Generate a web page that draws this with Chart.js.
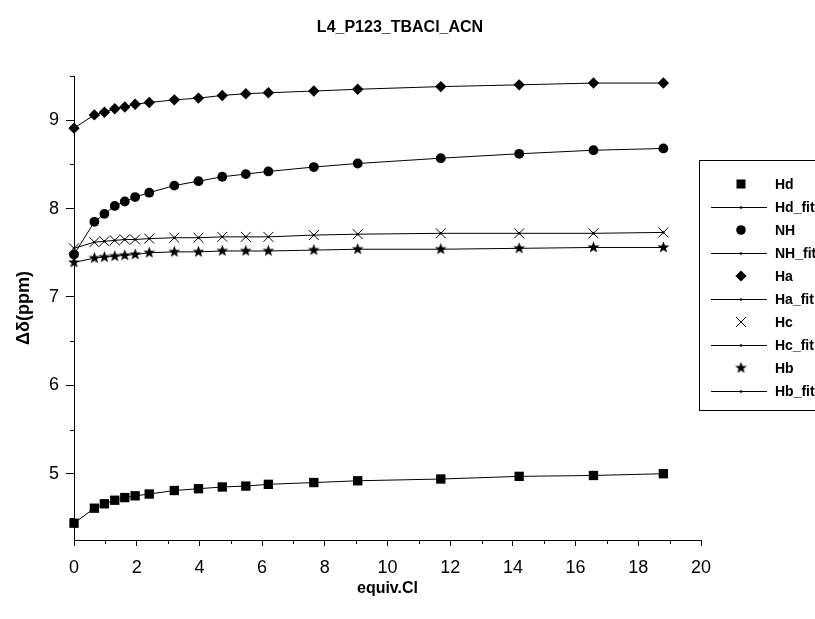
<!DOCTYPE html>
<html>
<head>
<meta charset="utf-8">
<script src="https://cdn.jsdelivr.net/npm/chart.js@4/dist/chart.umd.min.js"></script>
<style>
  html, body { margin: 0; padding: 0; background: #fff; }
  #wrap { width: 815px; height: 619px; position: relative; }
</style>
</head>
<body>
<div id="wrap"><canvas id="c" width="815" height="619"></canvas></div>
<script>
// Titration of L4 with TBACl in ACN: chemical shift vs equivalents of Cl-
const equiv = [0, 0.65, 0.97, 1.30, 1.62, 1.95, 2.40, 3.20, 3.97, 4.73, 5.48, 6.20, 7.65, 9.05, 11.70, 14.20, 16.57, 18.80];

const Hd = [4.44, 4.61, 4.66, 4.70, 4.73, 4.75, 4.77, 4.81, 4.83, 4.85, 4.86, 4.88, 4.90, 4.92, 4.94, 4.97, 4.98, 5.00];
const NH = [7.48, 7.85, 7.94, 8.03, 8.08, 8.13, 8.18, 8.26, 8.31, 8.36, 8.39, 8.42, 8.47, 8.51, 8.57, 8.62, 8.66, 8.68];
const Ha = [8.91, 9.06, 9.09, 9.13, 9.15, 9.18, 9.20, 9.23, 9.25, 9.28, 9.30, 9.31, 9.33, 9.35, 9.38, 9.40, 9.42, 9.42];
const Hc = [7.55, 7.62, 7.63, 7.64, 7.65, 7.65, 7.66, 7.67, 7.67, 7.68, 7.68, 7.68, 7.70, 7.71, 7.72, 7.72, 7.72, 7.73];
const Hb = [7.39, 7.44, 7.45, 7.46, 7.47, 7.48, 7.50, 7.51, 7.51, 7.52, 7.52, 7.52, 7.53, 7.54, 7.54, 7.55, 7.56, 7.56];

// fitted curves (evaluated at the titration points)
const HdFit = Hd, NHFit = NH, HaFit = Ha, HcFit = Hc, HbFit = Hb;

const xMajorTicks = [0, 2, 4, 6, 8, 10, 12, 14, 16, 18, 20];
const yMajorTicks = [5, 6, 7, 8, 9];

const chartTitle = 'L4_P123_TBACl_ACN';
const FONT = "'Liberation Sans', Arial, sans-serif";

// filled five-point star used as a marker
function makeStar(r) {
  const cv = document.createElement('canvas');
  const s = Math.ceil(r * 2 + 2);
  cv.width = s; cv.height = s;
  const g = cv.getContext('2d');
  g.fillStyle = '#000';
  g.beginPath();
  for (let i = 0; i < 10; i++) {
    const rr = i % 2 === 0 ? r : r * 0.42;
    const a = -Math.PI / 2 + i * Math.PI / 5;
    const px = s / 2 + rr * Math.cos(a), py = s / 2 + rr * Math.sin(a);
    if (i === 0) g.moveTo(px, py); else g.lineTo(px, py);
  }
  g.closePath();
  g.fill();
  return cv;
}
const starImg = makeStar(6.2);

const pts = arr => equiv.map((x, i) => ({ x: x, y: arr[i] }));

function markerSet(label, arr, style, radius, filled) {
  return {
    label: label, data: pts(arr), showLine: false, order: 0, clip: false,
    pointStyle: style, pointRadius: radius,
    pointBackgroundColor: filled ? '#000' : 'rgba(0,0,0,0)',
    pointBorderColor: '#000', pointBorderWidth: filled ? 0 : 1
  };
}
function fitSet(label, arr) {
  return {
    label: label, data: pts(arr), showLine: true, order: 1, clip: false,
    borderColor: '#000', borderWidth: 1, tension: 0,
    pointStyle: 'circle', pointRadius: 1.2,
    pointBackgroundColor: '#000', pointBorderWidth: 0
  };
}

const datasets = [
  markerSet('Hd', Hd, 'rect', 6.6, true),
  fitSet('Hd_fit', HdFit),
  markerSet('NH', NH, 'circle', 4.9, true),
  fitSet('NH_fit', NHFit),
  markerSet('Ha', Ha, 'rectRot', 5.7, true),
  fitSet('Ha_fit', HaFit),
  markerSet('Hc', Hc, 'crossRot', 7, false),
  fitSet('Hc_fit', HcFit),
  markerSet('Hb', Hb, starImg, 6, true),
  fitSet('Hb_fit', HbFit)
];

// chart title, centred over the whole figure
const figTitle = {
  id: 'figTitle',
  afterDraw(chart) {
    const ctx = chart.ctx;
    ctx.save();
    ctx.font = 'bold 16px ' + FONT;
    ctx.fillStyle = '#000';
    ctx.textAlign = 'center';
    ctx.textBaseline = 'middle';
    ctx.fillText(chartTitle, 400, 28);
    ctx.restore();
  }
};

// minor ticks at the half steps, drawn outward like the major ones
const minorTicks = {
  id: 'minorTicks',
  afterDraw(chart) {
    const ctx = chart.ctx, xs = chart.scales.x, ys = chart.scales.y;
    ctx.save();
    ctx.strokeStyle = '#000';
    ctx.lineWidth = 1;
    ctx.beginPath();
    for (let v = 1; v < 20; v += 2) {
      const px = Math.round(xs.getPixelForValue(v)) + 0.5;
      ctx.moveTo(px, xs.top); ctx.lineTo(px, xs.top + 4);
    }
    for (let v = 4.5; v <= 9.5; v += 1) {
      const py = Math.round(ys.getPixelForValue(v)) + 0.5;
      ctx.moveTo(ys.right, py); ctx.lineTo(ys.right - 4, py);
    }
    ctx.stroke();
    ctx.restore();
  }
};

// framed legend on the right
const boxLegend = {
  id: 'boxLegend',
  afterDraw(chart) {
    const ctx = chart.ctx;
    ctx.save();
    ctx.strokeStyle = '#000';
    ctx.lineWidth = 1;
    ctx.strokeRect(699.5, 160.5, 200, 250);
    const mx = 741, lx0 = 711, lx1 = 767, tx = 775;
    ctx.font = 'bold 14px ' + FONT;
    ctx.textBaseline = 'middle';
    ctx.fillStyle = '#000';
    chart.data.datasets.forEach((ds, i) => {
      const y = 184 + i * 23;
      if (ds.showLine) {
        ctx.beginPath();
        ctx.moveTo(lx0, y + 0.5); ctx.lineTo(lx1, y + 0.5);
        ctx.stroke();
        ctx.beginPath(); ctx.arc(mx, y + 0.5, 1.3, 0, Math.PI * 2); ctx.fill();
      } else {
        const st = ds.pointStyle;
        if (st === 'rect') {
          ctx.fillRect(mx - 4.5, y - 4.5, 9, 9);
        } else if (st === 'circle') {
          ctx.beginPath(); ctx.arc(mx, y, 4.8, 0, Math.PI * 2); ctx.fill();
        } else if (st === 'rectRot') {
          ctx.beginPath();
          ctx.moveTo(mx, y - 5.6); ctx.lineTo(mx + 5.6, y); ctx.lineTo(mx, y + 5.6); ctx.lineTo(mx - 5.6, y);
          ctx.closePath(); ctx.fill();
        } else if (st === 'crossRot') {
          ctx.beginPath();
          ctx.moveTo(mx - 5, y - 5); ctx.lineTo(mx + 5, y + 5);
          ctx.moveTo(mx + 5, y - 5); ctx.lineTo(mx - 5, y + 5);
          ctx.stroke();
        } else {
          ctx.drawImage(st, mx - st.width / 2, y - st.height / 2);
        }
      }
      ctx.fillText(ds.label, tx, y + 1);
    });
    ctx.restore();
  }
};

new Chart(document.getElementById('c'), {
  type: 'scatter',
  data: { datasets: datasets },
  options: {
    responsive: false,
    animation: false,
    events: [],
    layout: { padding: { left: 0, right: 114, top: 76, bottom: 0 } },
    plugins: {
      legend: { display: false },
      tooltip: { enabled: false },
      title: { display: false }
    },
    scales: {
      x: {
        type: 'linear', min: 0, max: 20,
        afterFit(s) { s.height = 79; },
        afterBuildTicks(s) { s.ticks = xMajorTicks.map(v => ({ value: v })); },
        ticks: { color: '#000', font: { family: FONT, size: 18 }, padding: 11, maxRotation: 0 },
        grid: { drawOnChartArea: false, color: '#000', tickLength: 6, tickWidth: 1 },
        border: { color: '#000', width: 1 },
        title: { display: true, text: 'equiv.Cl', color: '#000',
                 font: { family: FONT, size: 16, weight: 'bold' }, padding: { top: 0, bottom: 21 } }
      },
      y: {
        type: 'linear', min: 4.25, max: 9.5,
        afterFit(s) { s.width = 74; },
        afterBuildTicks(s) { s.ticks = yMajorTicks.map(v => ({ value: v })); },
        ticks: { color: '#000', font: { family: FONT, size: 18 }, padding: 7 },
        grid: { drawOnChartArea: false, color: '#000', tickLength: 8, tickWidth: 1 },
        border: { color: '#000', width: 1 },
        title: { display: true, text: 'Δδ(ppm)', color: '#000',
                 font: { family: FONT, size: 18, weight: 'bold' }, padding: { top: 13, bottom: 0 } }
      }
    }
  },
  plugins: [figTitle, minorTicks, boxLegend]
});
</script>
</body>
</html>
